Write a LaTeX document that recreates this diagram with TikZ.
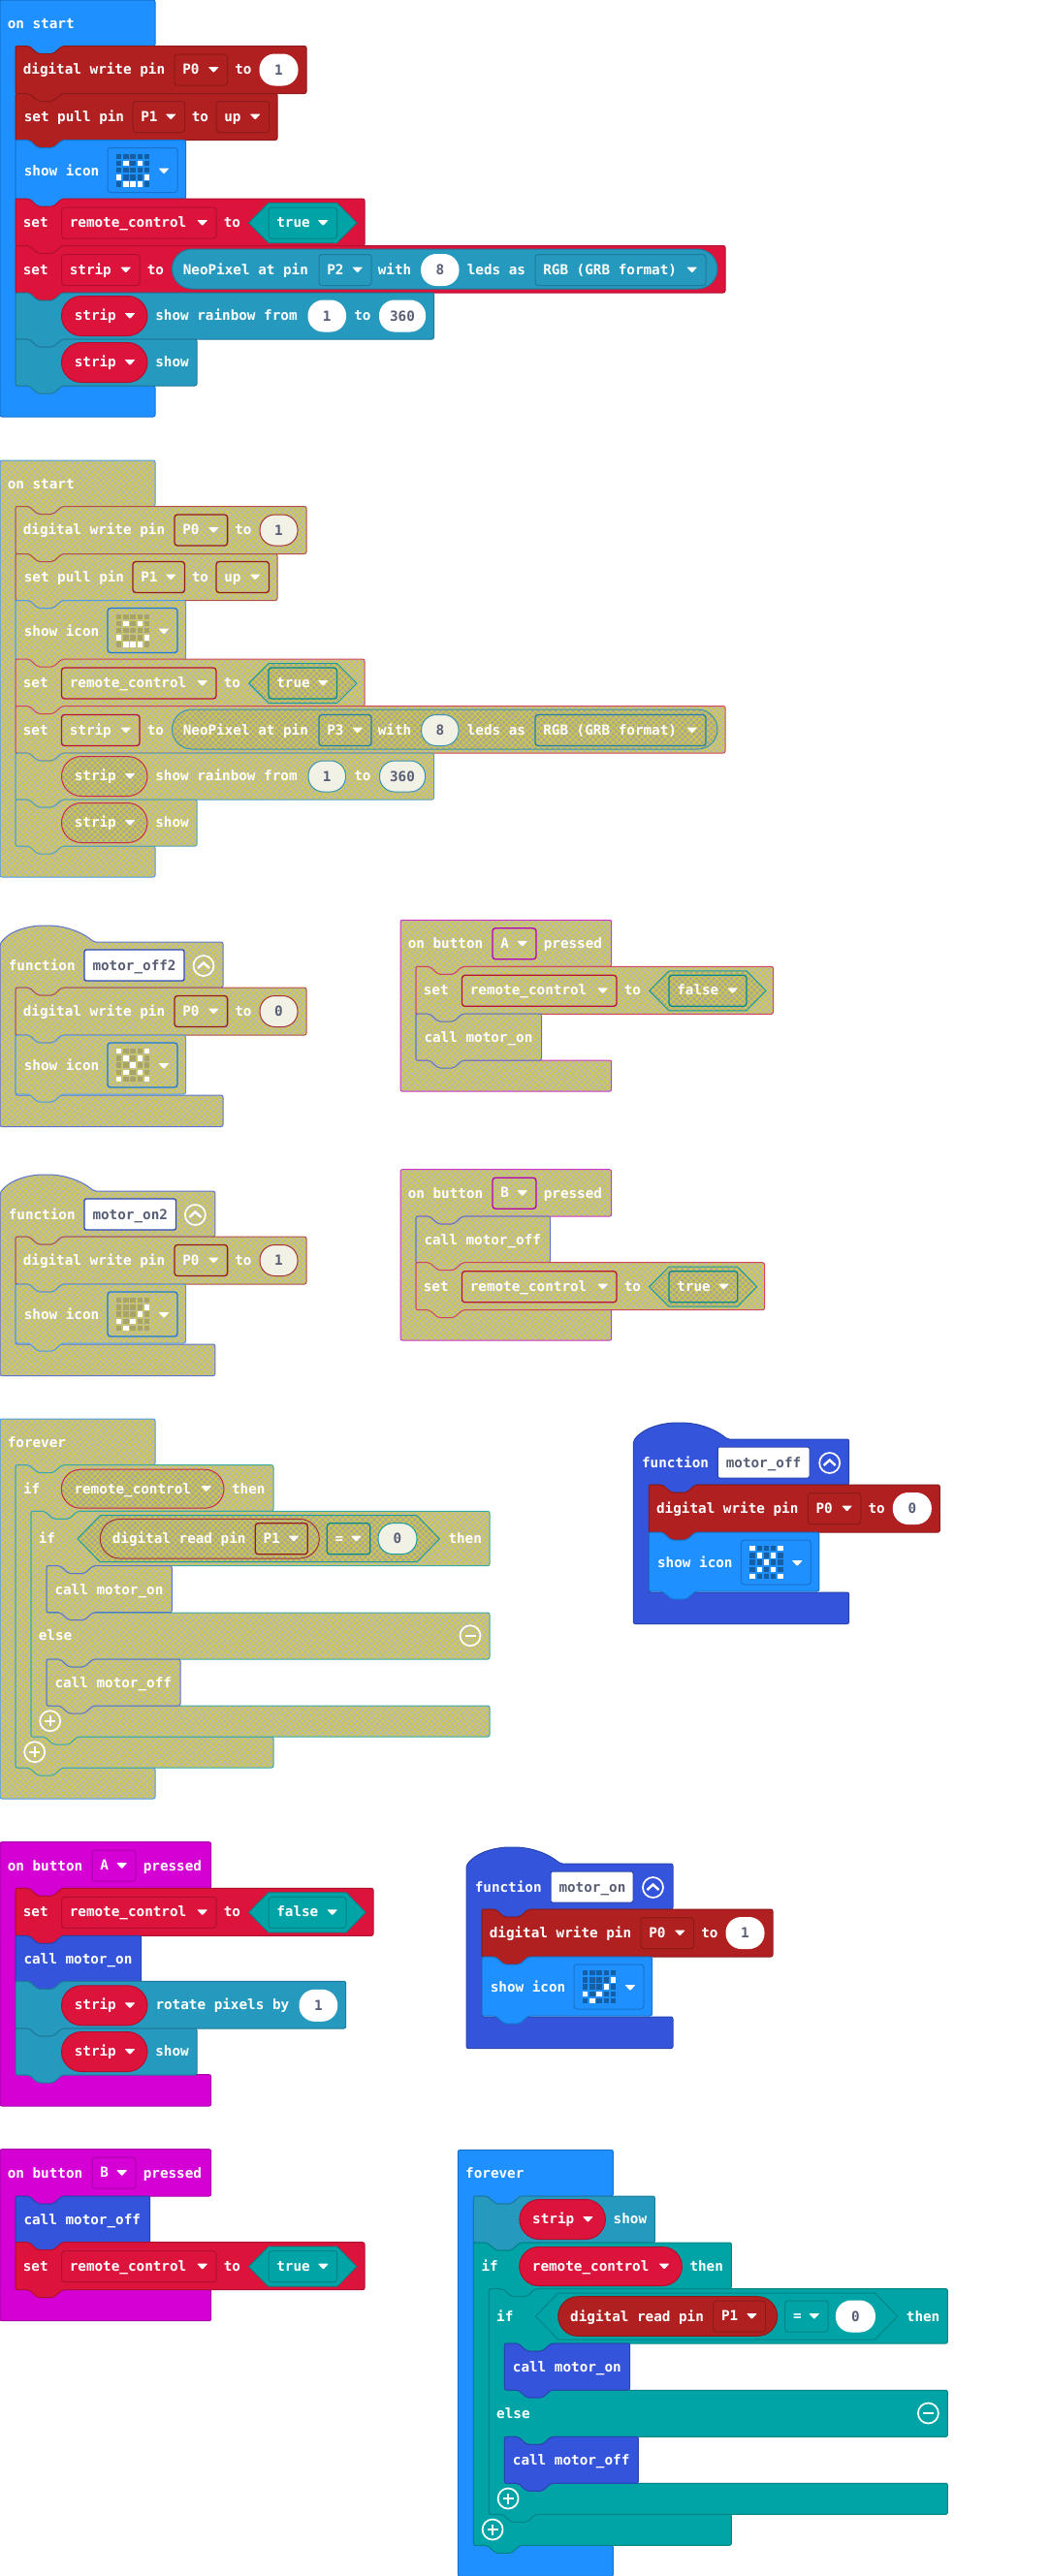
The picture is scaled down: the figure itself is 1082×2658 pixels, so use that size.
\documentclass[tikz,border=0pt]{standalone}
\usepackage{fontspec}
\usepackage{xcolor}
\usetikzlibrary{patterns.meta}
\newfontfamily\blockfamily{DejaVu Sans Mono}
\newcommand{\blockfont}{\blockfamily\bfseries\fontsize{14.3}{16}\selectfont}

\definecolor{cbasic}{HTML}{1E90FF}
\definecolor{cfunc}{HTML}{3455DB}
\definecolor{cinput}{HTML}{D400D4}
\definecolor{cvars}{HTML}{DC143C}
\definecolor{cpins}{HTML}{B02020}
\definecolor{cneo}{HTML}{2699BF}
\definecolor{clogic}{HTML}{00A4A6}
\definecolor{cOff}{HTML}{B8B8AE}
\definecolor{cOffDark}{HTML}{A9A896}
\definecolor{cHatch}{HTML}{D6CE3A}
\definecolor{cOffNum}{HTML}{F2F1E6}
\definecolor{cOffLed}{HTML}{A8A468}
\definecolor{cText}{HTML}{575E75}

\newif\ifoff
\tikzset{
  hatched/.style={preaction={fill=#1}, pattern={Hatch[angle=45,distance=4.2pt,line width=.8pt]}, pattern color=cHatch},
  tone/.code={\ifoff\pgfkeysalso{hatched=cOff,draw=c#1!70!cOff}\else\pgfkeysalso{fill=c#1,draw=c#1!80!black}\fi},
  slot/.code={\ifoff\pgfkeysalso{draw=c#1!85!black,line width=1.3pt}\else\pgfkeysalso{draw=c#1!80!black}\fi},
  pill/.code={\ifoff\pgfkeysalso{hatched=cOffDark,draw=c#1!80!gray}\else\pgfkeysalso{fill=c#1,draw=c#1!80!black}\fi},
  numbox/.code={\ifoff\pgfkeysalso{fill=cOffNum,draw=c#1!80!gray}\else\pgfkeysalso{fill=white,draw=white}\fi},
  leddark/.code={\ifoff\pgfkeysalso{fill=cOffLed}\else\pgfkeysalso{fill=cbasic!65!black}\fi},
  lbl/.style={anchor=base west, inner sep=0pt, font=\blockfont, text=white},
  numfield/.style={inner sep=0pt, font=\blockfont, text=cText, rounded corners=15.5pt, minimum height=32pt},
  roundbtn/.style={circle, draw=white, line width=1.7pt, inner sep=0pt, minimum size=21pt},
  btnmark/.style={draw=white, line width=2.4pt}
}

% block outlines
\newcommand{\notchR}[2]{-- (#1+14,#2) -- (#1+23,#2+8) -- (#1+39,#2+8) -- (#1+48,#2)}
\newcommand{\notchL}[2]{-- (#1+48,#2) -- (#1+39,#2+8) -- (#1+23,#2+8) -- (#1+14,#2)}
\newcommand{\stmt}[5]{\draw[tone=#1, rounded corners=2pt] (#2,#3) \notchR{#2}{#3} -- (#4,#3) -- (#4,#5) \notchL{#2}{#5} -- (#2,#5) -- cycle;}
\newcommand{\eventHat}[6]{\draw[tone=#1, rounded corners=2pt] (0,#2) -- (#4,#2) -- (#4,#3) \notchL{16}{#3} -- (16,#3) -- (16,#5) -- (#4,#5) -- (#4,#6) -- (0,#6) -- cycle;}
\newcommand{\funcHat}[4]{\draw[tone=func, rounded corners=2pt] (0,2) .. controls (10,-12) and (30,-17) .. (47,-17) .. controls (68,-17) and (85,-10) .. (97,0) -- (#1,0) -- (#1,#2) \notchL{16}{#2} -- (16,#2) -- (16,#3) -- (#1,#3) -- (#1,#4) -- (0,#4) -- cycle;}

% fields
\newcommand{\lbl}[4]{\node[lbl] (#1) at (#2-0.7,#3+4.5) {#4};}
\newcommand{\droparrow}[2]{\fill[white, rounded corners=.8pt] (#1-5.5,#2-3) -- (#1+5.5,#2-3) -- (#1,#2+3) -- cycle;}
\newcommand{\dropdown}[6]{\draw[slot=#1, rounded corners=3pt] (#3,#5-16) rectangle (#4,#5+16);
  \lbl{#2}{#3+8.5}{#5}{#6} \droparrow{#4-14.3}{#5}}
\newcommand{\numfield}[6]{\node[numfield, numbox=#1, minimum width={(#4-#3)*1pt}] (#2) at ({(#3+#4)/2},#5) {#6};}
\newcommand{\pillbox}[5]{\draw[pill=#1, rounded corners=#5 pt] (#2,#4-#5) rectangle (#3,#4+#5);}
\newcommand{\hexbox}[7]{\draw[pill=#1] (#2,#6) -- (#3,#6-#7) -- (#4,#6-#7) -- (#5,#6) -- (#4,#6+#7) -- (#3,#6+#7) -- cycle;}
\newcommand{\stripPill}[2]{\pillbox{vars}{63.5}{152}{#2}{20.5} \lbl{#1}{77}{#2}{strip} \droparrow{134}{#2}}
\newcommand{\ledgrid}[3]{%
  \foreach \c in {0,...,4} \foreach \r in {0,...,4} \fill[leddark] (#1+7.2*\c,#2+7.2*\r) rectangle +(5.4,5.4);
  \foreach \c/\r in #3 \fill[white] (#1+7.2*\c,#2+7.2*\r) rectangle +(5.4,5.4);}
\def\happyIcon{1/1,3/1,0/3,4/3,1/4,2/4,3/4}
\def\crossIcon{0/0,4/0,1/1,3/1,2/2,1/3,3/3,0/4,4/4}
\def\checkIcon{4/1,3/2,0/3,2/3,1/4}

% repeated blocks
\newcommand{\digiWrite}[3]{\stmt{pins}{16}{#2}{316}{#2+49}
  \lbl{#1-label}{24}{#2+24.5}{digital write pin}
  \dropdown{pins}{#1-pin}{180}{234.6}{#2+24.5}{P0}
  \lbl{#1-to}{242.5}{#2+24.5}{to}
  \numfield{pins}{#1-value}{268}{307}{#2+24.5}{#3}}
\newcommand{\iconBlock}[3]{\stmt{basic}{16}{#2}{191.5}{#2+61}
  \lbl{#1-label}{25}{#2+32}{show icon}
  \draw[slot=basic, rounded corners=3pt] (111,#2+8) rectangle (183,#2+54);
  \ledgrid{120}{#2+14}{#3}
  \droparrow{169}{#2+32}}
\newcommand{\setRemote}[6]{\stmt{vars}{16}{#2}{#3}{#2+49}
  \lbl{#1-set}{24}{#2+25}{set}
  \dropdown{vars}{#1-var}{63.5}{223}{#2+25}{remote\_control}
  \lbl{#1-to}{231}{#2+25}{to}
  \hexbox{logic}{256.7}{277}{#5}{#6}{#2+25}{20.5}
  \dropdown{logic}{#1-value}{277}{#5}{#2+25}{#4}}
\newcommand{\callBlock}[5]{\stmt{func}{#2}{#3}{#4}{#3+48}
  \lbl{#1}{#2+8.7}{#3+25}{call #5}}
\newcommand{\stripShow}[2]{\stmt{neo}{16}{#2}{203}{#2+48}
  \stripPill{#1-strip}{#2+24}
  \lbl{#1-show}{160.5}{#2+24}{show}}
\newcommand{\buttonHead}[1]{\lbl{head}{8}{25}{on button}
  \dropdown{input}{head-key}{95}{140}{24.5}{#1}
  \lbl{head-pressed}{148}{25}{pressed}}
\newcommand{\roundPlus}[3]{\node[roundbtn] (#1) at (#2,#3) {};
  \draw[btnmark] (#2-5.5,#3) -- (#2+5.5,#3) (#2,#3-5.5) -- (#2,#3+5.5);}

\newcommand{\startStack}[1]{\eventHat{basic}{0}{47.5}{160}{398}{430}
  \lbl{start}{8}{24.5}{on start}
  \digiWrite{write}{47.5}{1}
  \stmt{pins}{16}{96.5}{286}{144.5}
  \lbl{pull}{25}{120.5}{set pull pin}
  \dropdown{pins}{pull-pin}{137}{190.5}{120.5}{P1}
  \lbl{pull-to}{198}{120.5}{to}
  \dropdown{pins}{pull-mode}{223}{277.5}{120.5}{up}
  \iconBlock{icon}{144.5}{\happyIcon}
  \setRemote{remote}{205}{376}{true}{347.5}{368}
  \stmt{vars}{16}{253.5}{748}{302}
  \lbl{strip-set}{24}{278.5}{set}
  \dropdown{vars}{strip-var}{63.5}{144}{278.5}{strip}
  \lbl{strip-to}{152}{278.5}{to}
  \pillbox{neo}{177.5}{740}{277.5}{20.5}
  \lbl{neo-at}{189}{278.5}{NeoPixel at pin}
  \dropdown{neo}{neo-pin}{329}{383}{278.5}{#1}
  \lbl{neo-with}{390}{278.5}{with}
  \numfield{neo}{neo-leds}{434.6}{473}{278.5}{8}
  \lbl{neo-as}{482}{278.5}{leds as}
  \dropdown{neo}{neo-format}{552}{728}{278.5}{RGB (GRB format)}
  \stmt{neo}{16}{302}{447.5}{350}
  \stripPill{rainbow-strip}{326}
  \lbl{rainbow}{160.5}{326}{show rainbow from}
  \numfield{neo}{rainbow-from}{318}{356.5}{326}{1}
  \lbl{rainbow-to}{365.5}{326}{to}
  \numfield{neo}{rainbow-end}{391.5}{438.6}{326}{360}
  \stripShow{shown}{350}}

\newcommand{\functionStack}[6]{\funcHat{#4}{47}{158}{190.5}
  \lbl{func}{9}{25}{function}
  \draw[slot=func, fill=white, rounded corners=2pt] (87,8) rectangle (#2,40);
  \node[lbl, text=cText] (func-name) at (95,29.5) {#1};
  \node[roundbtn] (func-fold) at (#3,24.5) {};
  \draw[btnmark] (#3-6,27) -- (#3,21.5) -- (#3+6,27);
  \digiWrite{write}{47}{#5}
  \iconBlock{icon}{96}{#6}}

\newcommand{\ifStack}[1]{\begin{scope}[shift={(0,#1)}]
  \draw[tone=logic, rounded corners=2pt] (16,0) \notchR{16}{0} -- (282,0) -- (282,47.6) \notchL{32}{47.6} -- (32,47.6) -- (32,280.3) -- (282,280.3) -- (282,312.3) \notchL{16}{312.3} -- (16,312.3) -- cycle;
  \lbl{if-outer}{24.3}{25}{if}
  \pillbox{vars}{63.3}{231}{24.5}{20}
  \lbl{if-var}{76.7}{25}{remote\_control}
  \droparrow{212.7}{24.5}
  \lbl{if-then}{239.3}{25}{then}
  \draw[tone=logic, rounded corners=2pt] (32,47.6) \notchR{32}{47.6} -- (505,47.6) -- (505,104) \notchL{48}{104} -- (48,104) -- (48,152.3) -- (505,152.3) -- (505,200.3) \notchL{48}{200.3} -- (48,200.3) -- (48,248.3) -- (505,248.3) -- (505,280.3) \notchL{32}{280.3} -- (32,280.3) -- cycle;
  \lbl{in-if}{40}{76.6}{if}
  \hexbox{logic}{80}{103.3}{430}{453.3}{76}{24}
  \pillbox{pins}{103.3}{329.3}{76}{20.3}
  \lbl{read}{116}{76.6}{digital read pin}
  \dropdown{pins}{read-pin}{263.3}{317.3}{76}{P1}
  \dropdown{logic}{read-op}{337.3}{381.7}{76}{=}
  \numfield{logic}{read-value}{390}{430}{76}{0}
  \lbl{in-then}{462.7}{76.6}{then}
  \callBlock{call-on}{48}{104}{177.3}{motor\_on}
  \lbl{in-else}{40}{176.6}{else}
  \node[roundbtn] (in-minus) at (485,176) {};
  \draw[btnmark] (479.5,176) -- (490.5,176);
  \callBlock{call-off}{48}{200.3}{186}{motor\_off}
  \roundPlus{in-plus}{51.7}{264}
  \roundPlus{out-plus}{35.7}{296}
\end{scope}}

\begin{document}
\begin{tikzpicture}[x=1pt, y=-1pt, line width=1pt]
\useasboundingbox (0,0) rectangle (1082,2658);

% left column, enabled on start
\begin{scope}[name prefix=a-]
  \startStack{P2}
\end{scope}

% disabled copies
\begin{scope}[shift={(0,475)}, name prefix=b-]
  \offtrue
  \startStack{P3}
\end{scope}
\begin{scope}[shift={(0,972)}, name prefix=c-]
  \offtrue
  \functionStack{motor\_off2}{190}{210}{230}{0}{\crossIcon}
\end{scope}
\begin{scope}[shift={(0,1229)}, name prefix=d-]
  \offtrue
  \functionStack{motor\_on2}{181.5}{201.4}{221.8}{1}{\checkIcon}
\end{scope}
\begin{scope}[shift={(413,949.3)}, name prefix=e-]
  \offtrue
  \eventHat{input}{0}{48}{217.7}{144.7}{176.7}
  \buttonHead{A}
  \setRemote{set}{48}{384.5}{false}{357}{377}
  \callBlock{call}{16}{96.7}{145.5}{motor\_on}
\end{scope}
\begin{scope}[shift={(413,1206.7)}, name prefix=f-]
  \offtrue
  \eventHat{input}{0}{48.3}{217.7}{144.3}{176.3}
  \buttonHead{B}
  \callBlock{call}{16}{48.3}{154.5}{motor\_off}
  \setRemote{set}{96}{375.5}{true}{347.7}{367.7}
\end{scope}
\begin{scope}[shift={(0,1464)}, name prefix=g-]
  \offtrue
  \eventHat{basic}{0}{47.7}{160}{360}{392}
  \lbl{forever}{8}{24.7}{forever}
  \ifStack{47.7}
\end{scope}

% enabled blocks
\begin{scope}[shift={(653.3,1485)}, name prefix=h-]
  \functionStack{motor\_off}{181.7}{202.4}{222.4}{0}{\crossIcon}
\end{scope}
\begin{scope}[shift={(481,1923)}, name prefix=i-]
  \functionStack{motor\_on}{172}{192.5}{213}{1}{\checkIcon}
\end{scope}
\begin{scope}[shift={(0,1900.7)}, name prefix=j-]
  \eventHat{input}{0}{47.6}{217.7}{240}{272.3}
  \buttonHead{A}
  \setRemote{set}{47.6}{385}{false}{357}{377}
  \callBlock{call}{16}{96.6}{145.7}{motor\_on}
  \stmt{neo}{16}{143.6}{356.7}{192.3}
  \stripPill{rotate-strip}{168.6}
  \lbl{rotate}{160.7}{168.6}{rotate pixels by}
  \numfield{neo}{rotate-by}{309}{347.7}{168.6}{1}
  \stripShow{shown}{192.3}
\end{scope}
\begin{scope}[shift={(0,2217.7)}, name prefix=k-]
  \eventHat{input}{0}{48.3}{217.7}{144.6}{177}
  \buttonHead{B}
  \callBlock{call}{16}{48.3}{154.7}{motor\_off}
  \setRemote{set}{96}{376}{true}{347.7}{367.7}
\end{scope}
\begin{scope}[shift={(472.4,2218.4)}, name prefix=l-]
  \eventHat{basic}{0}{47.6}{160}{407.9}{439.9}
  \lbl{forever}{8}{24.7}{forever}
  \stripShow{shown}{47.6}
  \ifStack{95.6}
\end{scope}
\end{tikzpicture}
\end{document}
